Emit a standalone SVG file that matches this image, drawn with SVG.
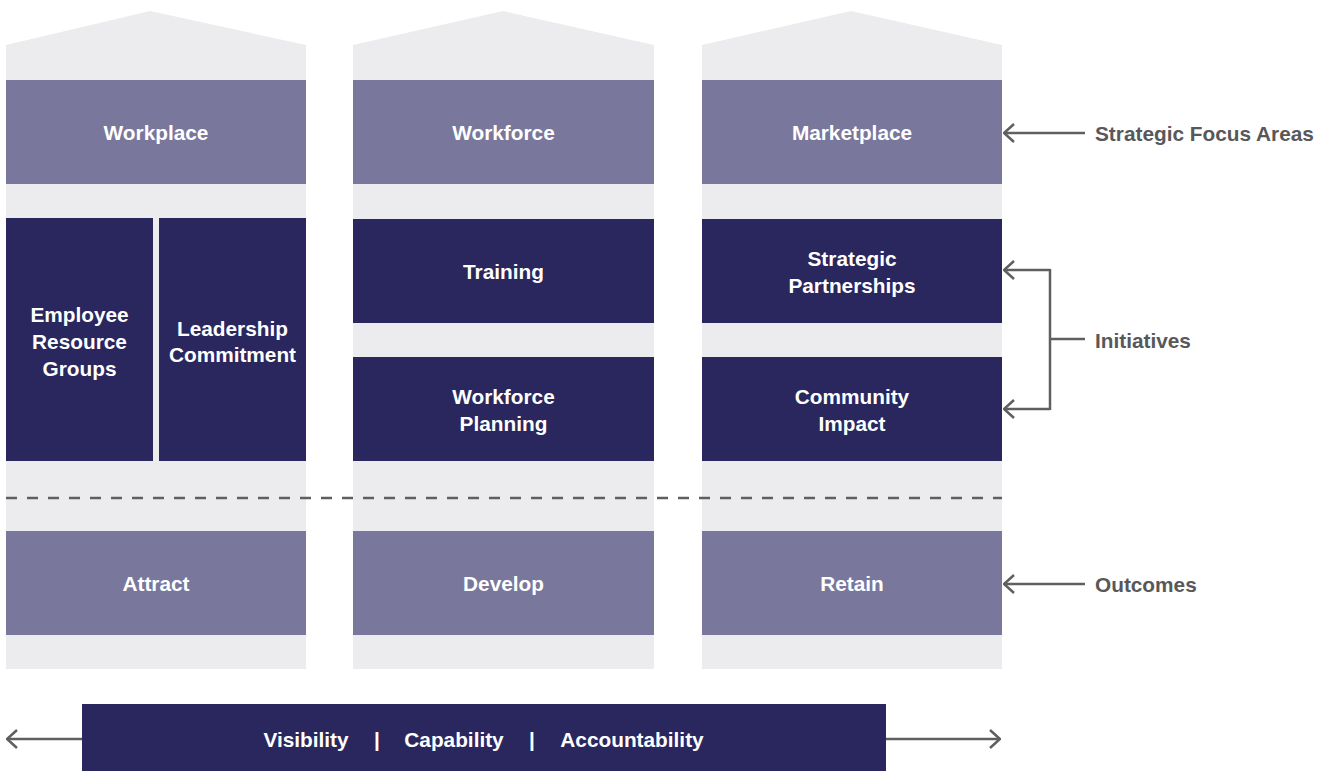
<svg xmlns="http://www.w3.org/2000/svg" width="1326" height="771" viewBox="0 0 1326 771">
<defs>
<style>
.pillar{fill:#ececee}
.focus{fill:#79779c}
.init{fill:#29275d}
.lbl{font-family:"Liberation Sans",Arial,sans-serif;font-weight:bold;font-size:20.8px;fill:#ffffff;text-anchor:middle;dominant-baseline:central}
.ann{font-family:"Liberation Sans",Arial,sans-serif;font-weight:bold;font-size:20.8px;fill:#58585a;dominant-baseline:central}
.line{stroke:#5f5f61;stroke-width:2.5;fill:none}
</style>
<marker id="ah" viewBox="0 0 12 20" refX="11" refY="10" markerWidth="12" markerHeight="20" markerUnits="userSpaceOnUse" orient="auto">
<path d="M1,1 L11,10 L1,19" fill="none" stroke="#5f5f61" stroke-width="2.5"/>
</marker>
</defs>
<rect width="1326" height="771" fill="#ffffff"/>

<g id="pillar-1">
<polygon class="pillar" points="6,45 150,11 306,45 306,669 6,669"/>
</g>
<g id="pillar-2">
<polygon class="pillar" points="353,45 503,11 654,45 654,669 353,669"/>
</g>
<g id="pillar-3">
<polygon class="pillar" points="702,45 851,11 1002,45 1002,669 702,669"/>
</g>

<g id="workplace"><rect class="focus" x="6" y="80" width="300" height="104"/><text class="lbl" x="156" y="132">Workplace</text></g>
<g id="workforce"><rect class="focus" x="353" y="80" width="301" height="104"/><text class="lbl" x="503.5" y="132">Workforce</text></g>
<g id="marketplace"><rect class="focus" x="702" y="80" width="300" height="104"/><text class="lbl" x="852" y="132">Marketplace</text></g>

<g id="employee-resource-groups"><rect class="init" x="6" y="218" width="147" height="243"/><text class="lbl" x="79.5" y="314">Employee</text><text class="lbl" x="79.5" y="341">Resource</text><text class="lbl" x="79.5" y="368">Groups</text></g>
<g id="leadership-commitment"><rect class="init" x="159" y="218" width="147" height="243"/><text class="lbl" x="232.5" y="328">Leadership</text><text class="lbl" x="232.5" y="354">Commitment</text></g>
<g id="training"><rect class="init" x="353" y="219" width="301" height="104"/><text class="lbl" x="503.5" y="271">Training</text></g>
<g id="workforce-planning"><rect class="init" x="353" y="357" width="301" height="104"/><text class="lbl" x="503.5" y="396">Workforce</text><text class="lbl" x="503.5" y="423">Planning</text></g>
<g id="strategic-partnerships"><rect class="init" x="702" y="219" width="300" height="104"/><text class="lbl" x="852" y="258">Strategic</text><text class="lbl" x="852" y="285">Partnerships</text></g>
<g id="community-impact"><rect class="init" x="702" y="357" width="300" height="104"/><text class="lbl" x="852" y="396">Community</text><text class="lbl" x="852" y="423">Impact</text></g>

<g id="attract"><rect class="focus" x="6" y="531" width="300" height="104"/><text class="lbl" x="156" y="583">Attract</text></g>
<g id="develop"><rect class="focus" x="353" y="531" width="301" height="104"/><text class="lbl" x="503.5" y="583">Develop</text></g>
<g id="retain"><rect class="focus" x="702" y="531" width="300" height="104"/><text class="lbl" x="852" y="583">Retain</text></g>

<g id="foundation">
<rect class="init" x="82" y="704" width="804" height="67"/>
<text class="lbl" x="306" y="739">Visibility</text>
<text class="lbl" x="377" y="739">|</text>
<text class="lbl" x="454" y="739">Capability</text>
<text class="lbl" x="532" y="739">|</text>
<text class="lbl" x="632" y="739">Accountability</text>
</g>

<g id="labels">
<text class="ann" x="1095" y="133">Strategic Focus Areas</text>
<text class="ann" x="1095" y="340">Initiatives</text>
<text class="ann" x="1095" y="584">Outcomes</text>
</g>

<g id="connectors">
<line x1="6" y1="498" x2="1002" y2="498" stroke="#5f5f61" stroke-width="2.5" stroke-dasharray="11,10"/>
<path class="line" d="M1085,133 L1004,133" marker-end="url(#ah)"/>
<path class="line" d="M1050,270 L1004,270" marker-end="url(#ah)"/>
<path class="line" d="M1050,409 L1004,409" marker-end="url(#ah)"/>
<path class="line" d="M1050,269 L1050,410"/>
<path class="line" d="M1050,339 L1085,339"/>
<path class="line" d="M1085,584 L1004,584" marker-end="url(#ah)"/>
<path class="line" d="M82,739 L7,739" marker-end="url(#ah)"/>
<path class="line" d="M886,739 L1000,739" marker-end="url(#ah)"/>
</g>
</svg>
